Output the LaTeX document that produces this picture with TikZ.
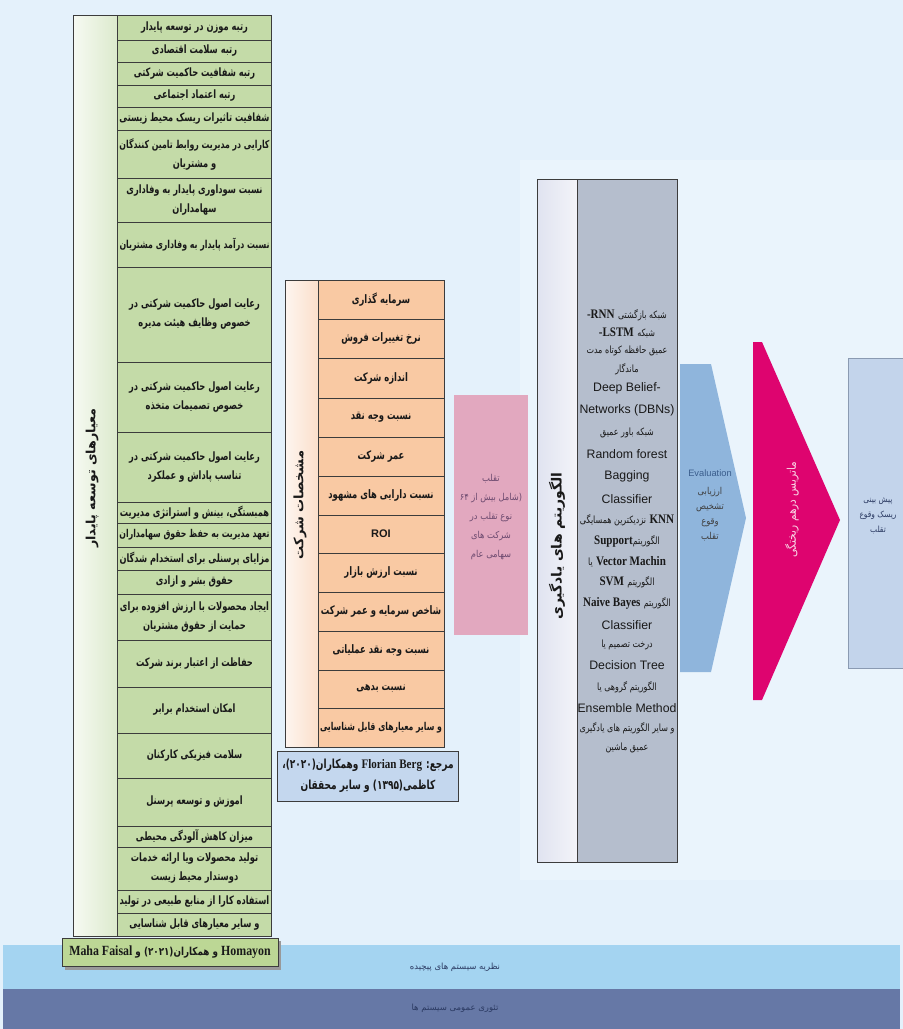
\documentclass[tikz,border=0pt]{standalone}
\usepackage{graphicx}
\usepackage{fontspec}
\TeXXeTstate=1
\newfontfamily\pfont[Script=Arabic]{DejaVu Sans}
\newfontfamily\pcond[Script=Arabic,FakeStretch=0.8]{DejaVu Sans}
\newfontfamily\ptab[Script=Arabic,FakeStretch=0.72]{DejaVu Sans}
\newfontfamily\pmid[Script=Arabic,FakeStretch=0.88]{DejaVu Sans}
\newfontfamily\lser[FakeStretch=0.85]{Liberation Serif}
\newfontfamily\lsans{Liberation Sans}
\newcommand\fa[1]{\beginR#1\endR}
\newsavebox\fitbox
\newcommand\fitw[2]{\sbox\fitbox{#2}\ifdim\wd\fitbox>#1\resizebox{#1}{!}{\usebox\fitbox}\else\usebox\fitbox\fi}
\newcommand\gln[1]{\fitw{150pt}{\fa{#1}}}
\newcommand\orl[1]{\fitw{122pt}{\fa{#1}}}
\definecolor{bg}{HTML}{E4F1FB}
\definecolor{gcol}{HTML}{C4DBA8}
\definecolor{gtitc}{HTML}{DCEACD}
\definecolor{grefc}{HTML}{BCD795}
\definecolor{ocol}{HTML}{F9C9A3}
\definecolor{otitc}{HTML}{FBDFCB}
\definecolor{brefc}{HTML}{C4D7EE}
\definecolor{pinkc}{HTML}{E2A8BF}
\definecolor{pinkt}{HTML}{6E4B70}
\definecolor{atitc}{HTML}{E0E3F0}
\definecolor{acol}{HTML}{B5BECD}
\definecolor{evalc}{HTML}{8FB5DC}
\definecolor{evalt}{HTML}{3A5D8C}
\definecolor{magc}{HTML}{DE046F}
\definecolor{magt}{HTML}{F8D4E4}
\definecolor{predc}{HTML}{C3D4EB}
\definecolor{predb}{HTML}{8A9AB2}
\definecolor{band1}{HTML}{A4D4F1}
\definecolor{band2}{HTML}{6678A6}
\definecolor{bandt}{HTML}{2B3A62}
\definecolor{edge}{HTML}{3C3C3C}
\tikzset{
  gcell/.style={draw=edge, line width=0.8pt, fill=gcol, minimum width=154pt, inner sep=0pt, align=center, text=black!90, font=\ptab\bfseries\fontsize{11.5}{19}\selectfont},
  ocell/.style={draw=edge, line width=0.8pt, fill=ocol, minimum width=126pt, inner sep=0pt, align=center, text=black!90, font=\ptab\bfseries\fontsize{11.7}{19}\selectfont},
  titcol/.style={draw=edge, line width=0.8pt, inner sep=0pt},
  vtitle/.style={rotate=90, inner sep=0pt, text=black!90, font=\pfont\bfseries\fontsize{12.7}{14}\selectfont},
  refbox/.style={draw=edge, line width=0.8pt, inner sep=1pt, align=center, text=black!90},
  aline/.style={inner sep=0pt, text=black!90},
  afa/.style={aline, font=\pcond\fontsize{10}{11}\selectfont},
  asans/.style={aline, font=\lsans\fontsize{12.3}{14}\selectfont},
  small/.style={inner sep=0pt, align=center}
}
\newcommand\gc[4]{\node[gcell,minimum height=#3pt-#2pt] (#1) at (194.5,{(#2+#3)/2}) {#4};}
\newcommand\oc[4]{\node[ocell,minimum height=#3pt-#2pt] (#1) at (381,{(#2+#3)/2}) {#4};}
\newcommand\srl[1]{{\lser\bfseries\fontsize{13}{14}\selectfont #1}}
\newcommand\sfa[1]{{\pcond\fontsize{10}{11}\selectfont\fa{#1}}}
\begin{document}
\begin{tikzpicture}[x=1pt,y=-1pt]
\useasboundingbox (0,0) rectangle (903,1029);
\fill[bg] (0,0) rectangle (903,1029);
\fill[white,opacity=0.25] (520,160) rectangle (903,880);
% ---------------- green table
\node[titcol, left color=white!75!gtitc, right color=gtitc, minimum width=44pt, minimum height=921pt] (gt) at (95,475.5) {};
\node[vtitle] (gtt) at (92,478) {\fa{معیارهای توسعه پایدار}};
\gc{g1}{15}{40}{\gln{رتبه موزن در توسعه پایدار}}
\gc{g2}{40}{62}{\gln{رتبه سلامت اقتصادی}}
\gc{g3}{62}{85}{\gln{رتبه شفافیت حاکمیت شرکتی}}
\gc{g4}{85}{107}{\gln{رتبه اعتماد اجتماعی}}
\gc{g5}{107}{130}{\gln{شفافیت تاثیرات ریسک محیط زیستی}}
\gc{g6}{130}{178}{\gln{کارایی در مدیریت روابط تامین کنندگان}\\\gln{و مشتریان}}
\gc{g7}{178}{222}{\gln{نسبت سوداوری پایدار به وفاداری}\\\gln{سهامداران}}
\gc{g8}{222}{267}{\gln{نسبت درآمد پایدار به وفاداری مشتریان}}
\gc{g9}{267}{362}{\gln{رعایت اصول حاکمیت شرکتی در}\\\gln{خصوص وظایف هیئت مدیره}}
\gc{g10}{362}{432}{\gln{رعایت اصول حاکمیت شرکتی در}\\\gln{خصوص تصمیمات متخذه}}
\gc{g11}{432}{502}{\gln{رعایت اصول حاکمیت شرکتی در}\\\gln{تناسب پاداش و عملکرد}}
\gc{g12}{502}{523}{\gln{همبستگی، بینش و استراتژی مدیریت}}
\gc{g13}{523}{547}{\gln{تعهد مدیریت به حفظ حقوق سهامداران}}
\gc{g14}{547}{570}{\gln{مزایای پرسنلی برای استخدام شدگان}}
\gc{g15}{570}{594}{\gln{حقوق بشر و ازادی}}
\gc{g16}{594}{640}{\gln{ایجاد محصولات با ارزش افزوده برای}\\\gln{حمایت از حقوق مشتریان}}
\gc{g17}{640}{687}{\gln{حفاظت از اعتبار برند شرکت}}
\gc{g18}{687}{733}{\gln{امکان استخدام برابر}}
\gc{g19}{733}{778}{\gln{سلامت فیزیکی کارکنان}}
\gc{g20}{778}{826}{\gln{اموزش و توسعه پرسنل}}
\gc{g21}{826}{847}{\gln{میزان کاهش آلودگی محیطی}}
\gc{g22}{847}{890}{\gln{تولید محصولات ویا ارائه خدمات}\\\gln{دوستدار محیط زیست}}
\gc{g23}{890}{913}{\gln{استفاده کارا از منابع طبیعی در تولید}}
\gc{g24}{913}{936}{\gln{و سایر معیارهای قابل شناسایی}}
% ---------------- bottom bands
\fill[band1] (3,945) rectangle (900,989);
\fill[band2] (3,989) rectangle (900,1029);
\node[small, text=bandt, font=\pfont\fontsize{8.5}{10}\selectfont] (b1) at (455,967) {\fa{نظریه سیستم های پیچیده}};
\node[small, text=bandt, font=\pfont\fontsize{8.5}{10}\selectfont] (b2) at (455,1008) {\fa{تئوری عمومی سیستم ها}};
% green reference
\fill[black!40] (65,941) rectangle (281,970);
\node[refbox, fill=grefc, minimum width=216pt, minimum height=28pt] (gref) at (170,952) {\fitw{208pt}{{\pcond\bfseries\fontsize{11}{12}\selectfont\fa{{\lser\fontsize{14}{15}\selectfont Homayon} و همکاران(۲۰۲۱) و {\lser\fontsize{14}{15}\selectfont\beginL Maha Faisal\endL}}}}};
% ---------------- orange table
\node[titcol, left color=white!70!otitc, right color=otitc, minimum width=33pt, minimum height=467pt] (ot) at (301.5,513.5) {};
\node[vtitle, font=\pfont\bfseries\fontsize{13}{14}\selectfont] (ott) at (300,505) {\fa{مشخصات شرکت}};
\oc{o1}{280}{319}{\orl{سرمایه گذاری}}
\oc{o2}{319}{358}{\orl{نرخ تغییرات فروش}}
\oc{o3}{358}{398}{\orl{اندازه شرکت}}
\oc{o4}{398}{437}{\orl{نسبت وجه نقد}}
\oc{o5}{437}{476}{\orl{عمر شرکت}}
\oc{o6}{476}{515}{\orl{نسبت دارایی های مشهود}}
\oc{o7}{515}{553}{{\lsans\bfseries\fontsize{11}{12}\selectfont ROI}}
\oc{o8}{553}{592}{\orl{نسبت ارزش بازار}}
\oc{o9}{592}{631}{\orl{شاخص سرمایه و عمر شرکت}}
\oc{o10}{631}{670}{\orl{نسبت وجه نقد عملیاتی}}
\oc{o11}{670}{708}{\orl{نسبت بدهی}}
\oc{o12}{708}{747}{\orl{و سایر معیارهای قابل شناسایی}}
\node[refbox, fill=brefc, minimum width=181pt, minimum height=50pt, font=\ptab\bfseries\fontsize{12.5}{21}\selectfont] (fref) at (368,776) {\fitw{176pt}{\fa{مرجع: {\lser\fontsize{13}{14}\selectfont\beginL Florian Berg\endL} وهمکاران(۲۰۲۰)،}}\\\fitw{176pt}{\fa{کاظمی(۱۳۹۵) و سایر محققان}}};
% ---------------- pink box
\node[fill=pinkc, minimum width=74pt, minimum height=240pt, inner sep=0pt] (pk) at (491,515) {};
\node[small, text=pinkt, font=\pmid\fontsize{9.5}{19}\selectfont] (pkt) at (491,517) {\fa{تقلب}\\\fa{(شامل بیش از ۶۴}\\\fa{نوع تقلب در}\\\fa{شرکت های}\\\fa{سهامی عام}};
% ---------------- algorithms
\node[titcol, left color=atitc, right color=white!60!atitc, minimum width=40pt, minimum height=683pt] (at) at (557,520.5) {};
\node[titcol, fill=acol, minimum width=100pt, minimum height=683pt] (ac) at (627,520.5) {};
\node[vtitle, font=\pfont\bfseries\fontsize{14}{15}\selectfont] (att) at (557,546) {\fa{الگوریتم های یادگیری}};
\node[aline] (a1) at (627,315) {\srl{-RNN} \sfa{شبکه بازگشتی}};
\node[aline] (a2) at (627,333) {\srl{-LSTM} \sfa{شبکه}};
\node[afa] (a3) at (627,351) {\fa{عمیق حافظه کوتاه مدت}};
\node[afa] (a4) at (627,369) {\fa{ماندگار}};
\node[asans] (a5) at (627,388) {Deep Belief-};
\node[asans] (a6) at (627,410) {Networks (DBNs)};
\node[afa] (a7) at (627,433) {\fa{شبکه باور عمیق}};
\node[asans] (a8) at (627,454) {Random forest};
\node[asans] (a9) at (627,476) {Bagging};
\node[asans] (a10) at (627,499) {Classifier};
\node[aline] (a11) at (627,520) {\fitw{98pt}{\sfa{نزدیکترین همسایگی} \srl{KNN}}};
\node[aline] (a12) at (627,541) {\srl{Support}\sfa{الگوریتم}};
\node[aline] (a13) at (627,562) {\fitw{98pt}{\sfa{یا} \srl{Vector Machin}}};
\node[aline] (a14) at (627,582) {\srl{SVM} \sfa{الگوریتم}};
\node[aline] (a15) at (627,603) {\fitw{98pt}{\srl{Naive Bayes} \sfa{الگوریتم}}};
\node[asans] (a16) at (627,625) {Classifier};
\node[afa] (a17) at (627,645) {\fa{درخت تصمیم یا}};
\node[asans] (a18) at (627,665) {Decision Tree};
\node[afa] (a19) at (627,687) {\fa{الگوریتم گروهی یا}};
\node[asans] (a20) at (627,708) {\fitw{99pt}{Ensemble Method}};
\node[afa] (a21) at (627,728) {\fitw{98pt}{\fa{و سایر الگوریتم های یادگیری}}};
\node[afa] (a22) at (627,748) {\fa{عمیق ماشین}};
% ---------------- evaluation chevron
\fill[evalc] (680,364) -- (711,364) -- (746,518) -- (711,672) -- (680,672) -- cycle;
\node[small, text=evalt, font=\lsans\fontsize{9.3}{11}\selectfont] (e1) at (710,473) {Evaluation};
\node[small, text=black!75, font=\pmid\fontsize{9.5}{15}\selectfont] (e2) at (710,514) {\fa{ارزیابی}\\\fa{تشخیص}\\\fa{وقوع}\\\fa{تقلب}};
% ---------------- magenta triangle
\fill[magc] (753,342) -- (762,342) -- (840,520) -- (762,700) -- (753,700) -- cycle;
\node[rotate=90, inner sep=0pt, text=magt, font=\pmid\fontsize{12}{13}\selectfont] (mt) at (792,510) {\fa{ماتریس درهم ریختگی}};
% ---------------- prediction box
\node[draw=predb, line width=0.6pt, fill=predc, minimum width=72pt, minimum height=310pt, inner sep=0pt] (pr) at (884,513) {};
\node[small, text=bandt, font=\pmid\fontsize{8.5}{15}\selectfont] (prt) at (878,516) {\fa{پیش بینی}\\\fa{ریسک وقوع}\\\fa{تقلب}};
\end{tikzpicture}
\end{document}
